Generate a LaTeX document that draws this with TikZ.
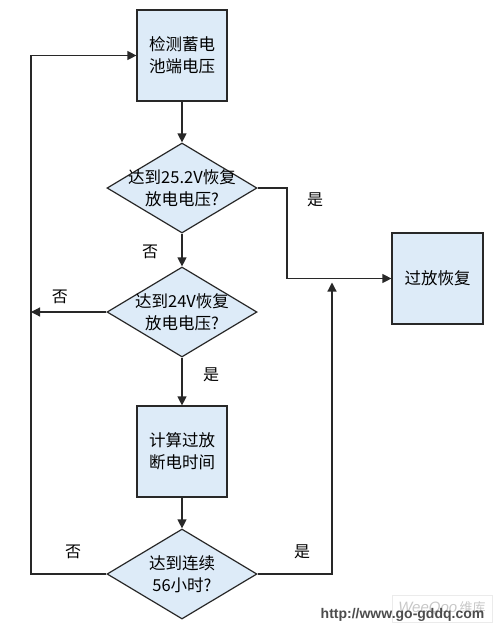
\documentclass[tikz,border=0pt]{standalone}
\usepackage{fontspec}
\setmainfont{Noto Sans CJK SC}
\newfontfamily\urlfont{Liberation Sans}
\usetikzlibrary{shapes.geometric,arrows.meta}
\definecolor{boxfill}{RGB}{221,235,248}
\definecolor{linegray}{RGB}{40,40,40}
\tikzset{
	procbox/.style={draw=linegray,fill=boxfill,line width=1.2pt,minimum width=90pt,minimum height=91pt,inner sep=0pt,align=center,font=\fontsize{16.5}{22}\selectfont},
	decision/.style={draw=linegray,fill=boxfill,line width=1.2pt,diamond,minimum width=150pt,minimum height=90pt,inner sep=0pt},
	dtext/.style={label={[align=center,font=\fontsize{16.5}{22}\selectfont]center:{#1}}},
	arr/.style={draw=linegray,line width=1.2pt,-{Triangle[length=9pt,width=9pt]}},
	yesno/.style={font=\fontsize{16}{16}\selectfont}
}
\begin{document}
\begin{tikzpicture}[x=1pt,y=-1pt]
	\useasboundingbox (0,0) rectangle (497,630);
	% boxes
	\node[procbox] (check) at (182,55.5) {检测蓄电\\池端电压};
	\node[decision,dtext={达到25.2V恢复\\放电电压?}] (d1) at (182,188) {};
	\node[decision,dtext={达到24V恢复\\放电电压?}] (d2) at (182,312) {};
	\node[procbox] (calc) at (182,451.5) {计算过放\\断电时间};
	\node[decision,dtext={达到连续\\56小时?}] (d3) at (182,574) {};
	\node[procbox,minimum width=91pt] (recover) at (437.5,278.5) {过放恢复};
	% corners
	\coordinate (lb) at (31,574);
	\coordinate (rb) at (332,574);
	\coordinate (rt) at (332,282.5);
	\coordinate (d1r) at (287,188);
	% connectors
	\draw[arr] (check) -- (d1);
	\draw[arr] (d1) -- (d2);
	\draw[arr] (d2) -- (calc);
	\draw[arr] (calc) -- (d3);
	\draw[arr] (d2.west) -- (d2.west -| lb);
	\draw[arr] (d3.west) -- (lb) |- (check.west);
	\draw[arr] (d3.east) -- (rb) -- (rt);
	\draw[arr] (d1.east) -- (d1r) |- (recover.west);
	% labels
	\node[yesno] (y1) at (315,200) {是};
	\node[yesno] (n1) at (150,252) {否};
	\node[yesno] (n2) at (60,297) {否};
	\node[yesno] (y2) at (211,375) {是};
	\node[yesno] (n3) at (73,552) {否};
	\node[yesno] (y3) at (302,552) {是};
	% watermark
	\node[draw=black!8,minimum width=100pt,minimum height=27pt,inner sep=0pt,text=black!22,font=\urlfont\itshape\fontsize{15}{15}\selectfont] (wq) at (442,608.5) {WeeQoo\,{\normalfont\fontsize{13}{13}\selectfont 维库}};
	\node[text=black!70,font=\urlfont\bfseries\fontsize{14}{14}\selectfont,inner sep=0pt] (url) at (402.5,615) {http://www.go-gddq.com};
\end{tikzpicture}
\end{document}
